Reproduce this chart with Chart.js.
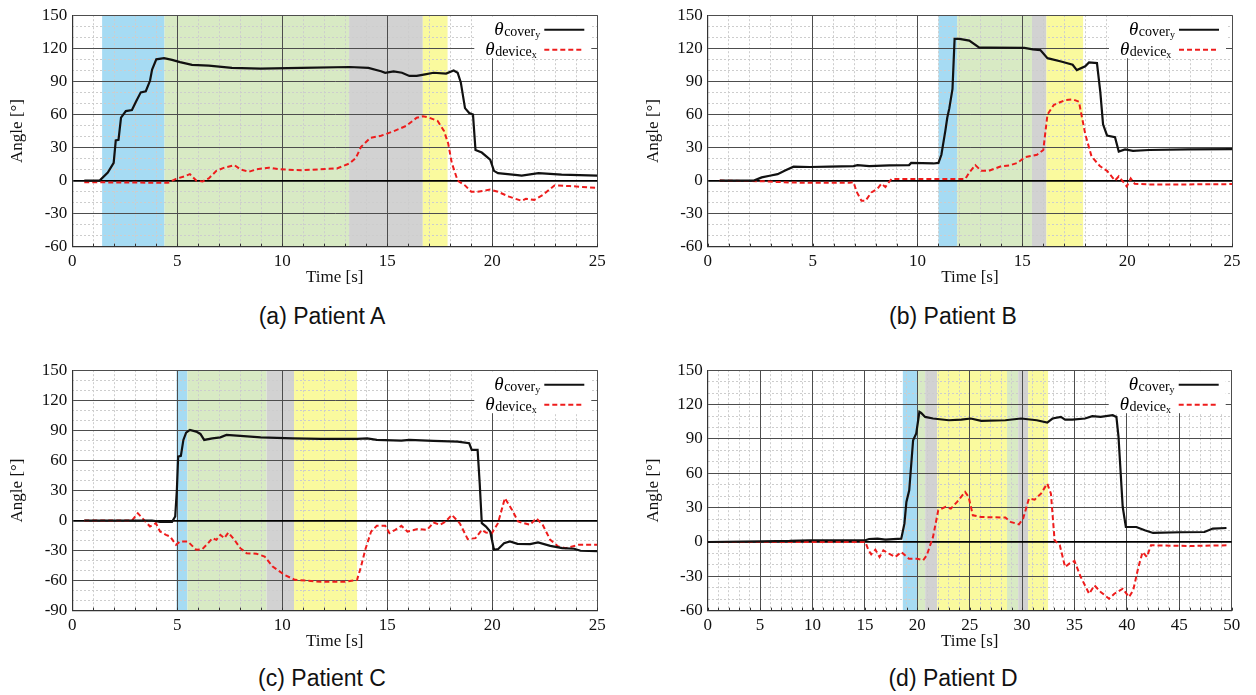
<!DOCTYPE html>
<html>
<head>
<meta charset="utf-8">
<script src="https://cdn.jsdelivr.net/npm/chart.js@4.4.1/dist/chart.umd.min.js"></script>
<style>
  body { margin: 0; background: #fff; width: 1256px; height: 695px; position: relative; overflow: hidden; }
  .panel { position: absolute; }
  .caption { position: absolute; width: 320px; text-align: center; font-family: "Liberation Sans", Arial, sans-serif; font-size: 23px; color: #111; line-height: 26px; }
</style>
</head>
<body>
<div class="panel" style="left:0;top:0;width:630px;height:290px"><canvas id="chartA"></canvas></div>
<div class="panel" style="left:630px;top:0;width:626px;height:290px"><canvas id="chartB"></canvas></div>
<div class="panel" style="left:0;top:355px;width:630px;height:300px"><canvas id="chartC"></canvas></div>
<div class="panel" style="left:630px;top:355px;width:626px;height:300px"><canvas id="chartD"></canvas></div>
<div class="caption" style="left:162px;top:303px">(a) Patient A</div>
<div class="caption" style="left:793px;top:303px">(b) Patient B</div>
<div class="caption" style="left:162px;top:665px">(c) Patient C</div>
<div class="caption" style="left:793px;top:665px">(d) Patient D</div>

<script>
// ---- Patient A ----
const coverATime  = [0.57, 1.3, 1.69, 1.97, 2.07, 2.2, 2.32, 2.55, 2.84, 3.03, 3.26, 3.5, 3.7, 3.8, 4.0, 4.37, 4.75, 5.13, 5.7, 6.5, 7.6, 8.97, 10.9, 13.2, 14.1, 14.7, 14.9, 15.3, 15.7, 16.05, 16.4, 16.8, 17.2, 17.8, 18.16, 18.35, 18.5, 18.7, 18.9, 19.08, 19.2, 19.5, 19.9, 20.08, 20.27, 21.2, 21.4, 22.2, 23.3, 25];
const coverAAngle = [0, 0, 7.3, 16, 36.5, 37, 57, 63, 64, 71.5, 80, 81, 90.5, 100.7, 110, 111, 109.5, 107.4, 105, 104.2, 102.2, 101.6, 102.2, 103, 102.2, 99.2, 97.8, 99, 97.8, 94.9, 94.9, 96.3, 97.8, 97, 99.8, 97.8, 89, 65.7, 61.3, 60, 27.7, 25.4, 19, 8.8, 6.7, 5, 4.4, 6.7, 5.3, 4.4];
const deviceATime  = [0.57, 4.18, 4.56, 4.94, 5.33, 5.6, 5.9, 6.2, 6.5, 6.86, 7.24, 7.72, 8.0, 8.4, 8.77, 9.35, 9.9, 10.9, 11.8, 12.6, 13.2, 13.5, 13.75, 14.2, 14.7, 15.3, 15.9, 16.4, 16.7, 17.0, 17.4, 17.7, 17.9, 18.07, 18.35, 18.7, 19.0, 19.3, 19.9, 20.27, 20.8, 21.4, 21.6, 22.0, 22.4, 22.96, 23.7, 24.3, 25];
const deviceAAngle = [-1.5, -2, -2, 1.5, 3.8, 5.8, 0, -0.9, 2, 8.8, 11.7, 14, 10.2, 7.9, 10.2, 11.7, 10.2, 9.3, 10.2, 11, 15.5, 20.4, 30.6, 38.8, 40.6, 44.7, 49.6, 57, 58.4, 57, 54, 45, 33.6, 16, 0, -4.4, -10.2, -10.2, -8.2, -10.2, -14.6, -18.4, -16.6, -17.5, -13.1, -4.4, -5, -5.8, -6.7];
const phaseAStart = [1.42, 4.39, 13.18, 16.69];
const phaseAEnd   = [4.39, 13.18, 16.69, 17.87];
const phaseAKind  = ['blue', 'green', 'grey', 'yellow'];

// ---- Patient B ----
const coverBTime  = [0.57, 2.2, 2.57, 2.95, 3.33, 3.71, 4.09, 4.86, 5.8, 6.95, 7.14, 7.7, 8.66, 9.6, 9.7, 10.76, 11.0, 11.14, 11.33, 11.42, 11.52, 11.67, 11.77, 12.0, 12.47, 12.95, 13.4, 15.1, 15.5, 15.86, 16.2, 16.85, 17.4, 17.6, 18.0, 18.18, 18.56, 18.72, 18.85, 19.04, 19.42, 19.6, 19.9, 20.28, 21.04, 22.9, 25];
const coverBAngle = [0, 0, 2.9, 4.4, 5.8, 9.3, 12.6, 12.3, 12.6, 13.1, 14, 13.1, 13.7, 14, 16, 15.5, 16, 23.4, 45.3, 57, 65.7, 83.2, 128.5, 128.5, 127, 120.6, 120.6, 120.3, 119, 118.3, 111, 108, 105, 100.2, 103.7, 107.2, 106.6, 80.3, 51, 40.9, 39.4, 26.3, 28.3, 26.9, 27.7, 28.3, 28.6];
const deviceBTime  = [0.57, 2.57, 3.9, 4.86, 6.76, 6.95, 7.1, 7.33, 7.52, 7.8, 8.1, 8.28, 8.47, 8.76, 9.6, 11.5, 12.28, 12.47, 12.76, 13.04, 13.4, 14.0, 14.38, 14.76, 15.14, 15.7, 16.0, 16.2, 16.5, 17.04, 17.42, 17.7, 18.0, 18.3, 18.7, 19.04, 19.42, 19.6, 19.98, 20.17, 20.36, 21.04, 22.9, 25];
const deviceBAngle = [0, -0.6, -1.8, -2, -2, -1.5, -10.2, -18.4, -18.4, -10.8, -7.3, -2.9, -5.8, 1.5, 1.5, 1.5, 1.5, 7.3, 14, 8.8, 8.8, 13.1, 13.7, 16, 21.3, 23.4, 27.7, 59.9, 68.6, 73, 73.6, 71.5, 42.3, 21.9, 13.1, 8.8, 0, 3.8, -5.3, 2, -2.9, -3.5, -3.5, -3.2];
const phaseBStart = [11.0, 11.9, 15.46, 16.15];
const phaseBEnd   = [11.9, 15.46, 16.15, 17.9];
const phaseBKind  = ['blue', 'green', 'grey', 'yellow'];

// ---- Patient C ----
const coverCTime  = [0.57, 3.8, 4.18, 4.75, 4.9, 4.98, 5.04, 5.17, 5.29, 5.42, 5.6, 5.9, 6.1, 6.28, 6.67, 7.05, 7.34, 8.0, 8.97, 10.5, 11.84, 13.56, 14.04, 14.5, 15.67, 16.05, 17.2, 18.35, 18.9, 19.02, 19.3, 19.4, 19.5, 19.7, 19.9, 20.08, 20.27, 20.56, 20.84, 21.2, 21.8, 22.18, 22.76, 23.33, 23.9, 24.2, 25];
const coverCAngle = [0, 0, -1.3, -1.3, 4, 30.6, 63.8, 64.5, 80.4, 87.7, 90.4, 88.7, 86.4, 80.4, 82, 83, 85.4, 84.4, 83, 82, 81.4, 81.4, 82, 80.4, 79.7, 80.4, 79.4, 78.8, 77.1, 70.4, 70.4, 37.2, -2.7, -6, -11, -29.2, -28.6, -22.6, -20.9, -23.3, -23.6, -21.9, -25.3, -27.6, -28.2, -30.2, -30.6];
const deviceCTime  = [0.57, 2.84, 3.12, 3.41, 3.7, 3.98, 4.18, 4.46, 4.66, 4.94, 5.13, 5.5, 5.9, 6.19, 6.47, 6.67, 6.86, 7.05, 7.24, 7.43, 7.72, 8.0, 8.3, 8.77, 9.16, 9.54, 10.1, 10.6, 11.84, 13.0, 13.56, 13.75, 13.95, 14.23, 14.5, 14.9, 15.1, 15.38, 15.67, 15.96, 16.44, 16.9, 17.2, 17.5, 17.78, 18.07, 18.45, 18.83, 19.2, 19.5, 19.7, 19.98, 20.27, 20.6, 20.94, 21.23, 21.5, 21.8, 22.1, 22.4, 22.76, 23.14, 23.5, 24.1, 25];
const deviceCAngle = [0, 0, 7.3, 0.7, -6, -2.7, -11, -14.3, -16, -24.3, -20.9, -20.9, -29.2, -28.6, -22.6, -17.6, -19.3, -14.3, -17.6, -12, -19.3, -27.6, -32.6, -33.2, -35.9, -45.9, -54.2, -59.2, -61.1, -61.1, -59.2, -45.9, -29.2, -11, -5.3, -5.3, -12.6, -9.3, -5.3, -11, -8.6, -9.3, -2, -4.3, -1, 5.6, -2.7, -18.6, -17.6, -9.3, -12, -12.6, -2.7, 22.3, 10.6, -1, -2.7, -4.3, 2.3, -4.3, -19.3, -25.9, -27.6, -24.3, -24.3];
const phaseCStart = [4.96, 5.48, 9.25, 10.56];
const phaseCEnd   = [5.48, 9.25, 10.56, 13.56];
const phaseCKind  = ['blue', 'green', 'grey', 'yellow'];

// ---- Patient D ----
const coverDTime  = [0, 5.14, 7.8, 9.7, 15.04, 15.4, 16.2, 16.95, 18.47, 18.77, 18.96, 19.23, 19.6, 19.9, 20.2, 20.37, 20.75, 21.5, 23.0, 24.2, 25.1, 26.1, 28.4, 29.9, 31.4, 32.4, 32.9, 33.7, 34.1, 34.8, 36.0, 36.7, 37.5, 38.65, 39.0, 39.2, 39.6, 39.9, 40.9, 41.7, 42.5, 45.1, 47.4, 48.2, 49.5];
const coverDAngle = [0, 0.6, 0.9, 1.5, 1.5, 2.6, 2.9, 2, 2.9, 16, 35, 45.2, 88.8, 94.7, 113.6, 112.7, 109.2, 107.8, 106.3, 106.9, 107.8, 105.7, 106.3, 107.8, 106.3, 104.3, 107.8, 109.2, 106.9, 106.9, 107.8, 109.8, 109.2, 110.7, 109.2, 91.8, 30.6, 13.1, 13.1, 10.2, 7.9, 8.5, 8.7, 11.7, 12.2];
const deviceDTime  = [0, 15.04, 15.35, 15.6, 16.0, 16.4, 16.76, 17.3, 17.9, 18.47, 19.2, 20.0, 20.56, 20.9, 21.5, 22.0, 22.7, 23.2, 23.8, 24.56, 24.9, 25.3, 26.1, 28.4, 28.9, 29.7, 30.1, 30.65, 31.2, 31.8, 32.4, 32.75, 33.1, 33.6, 34.1, 34.5, 35.0, 35.6, 36.4, 36.9, 37.5, 38.3, 38.8, 39.6, 40.2, 40.6, 41.1, 41.5, 41.9, 42.3, 45.9, 49.5];
const deviceDAngle = [0, 0, -7.3, -10.8, -6.7, -13.1, -7.3, -10.2, -13.1, -8.7, -14.6, -14.6, -16, -11.7, 4.4, 27.7, 30.6, 29.1, 35, 43.7, 39.3, 23.3, 21.8, 21.3, 17.5, 15.4, 20.4, 37.9, 37, 42.2, 51, 42.2, 1.5, -2.9, -21.8, -18.9, -16.6, -30.6, -45.2, -37.9, -43.7, -49.5, -45.2, -40.8, -48.1, -42.2, -21.8, -8.7, -13.1, -2.9, -3.5, -2.9];
const phaseDStart = [18.62, 20.07, 20.75, 21.9, 28.56, 29.63, 30.58];
const phaseDEnd   = [20.07, 20.75, 21.9, 28.56, 29.63, 30.58, 32.48];
const phaseDKind  = ['blue', 'green', 'grey', 'yellow', 'green', 'grey', 'yellow'];

// tick label ranges
const yTicksAB = { min: -60, max: 150 };
const yTicksC  = { min: -90, max: 150 };
const yTicksD  = { min: -60, max: 150 };

const PHASE_COLORS = { blue: '#a6dbf3', green: '#d8eac4', grey: '#d2d2d2', yellow: '#fafa9e' };
const SERIF = '"Liberation Serif", "Times New Roman", serif';

function toPoints(t, v) {
  return t.map((x, i) => ({ x: x, y: v[i] }));
}

// shaded phase bands behind the grid
const phasePlugin = {
  id: 'phases',
  beforeDraw(chart, args, opts) {
    const { ctx, chartArea } = chart;
    const xs = chart.scales.x;
    ctx.save();
    opts.start.forEach((s, i) => {
      const x1 = xs.getPixelForValue(s);
      const x2 = xs.getPixelForValue(opts.end[i]);
      ctx.fillStyle = PHASE_COLORS[opts.kind[i]];
      ctx.fillRect(x1, chartArea.top, x2 - x1, chartArea.bottom - chartArea.top);
    });
    ctx.restore();
  }
};

// legend with theta + subscripts; box goes under the lines, text on top
const thetaLegend = {
  id: 'thetaLegend',
  beforeDatasetsDraw(chart) {
    const { ctx, chartArea } = chart;
    const R = chartArea.right, T = chartArea.top, B = chartArea.bottom;
    ctx.save();
    // short minor ticks standing on the bottom axis
    ctx.strokeStyle = '#333';
    ctx.lineWidth = 1;
    chart.scales.xMinor.ticks.forEach(t => {
      const x = Math.round(chart.scales.xMinor.getPixelForValue(t.value)) + 0.5;
      ctx.beginPath();
      ctx.moveTo(x, B);
      ctx.lineTo(x, B - 3);
      ctx.stroke();
    });
    ctx.fillStyle = '#fff';
    ctx.fillRect(R - 123, T + 1, 117, 42);
    ctx.restore();
  },
  afterDraw(chart) {
    const { ctx, chartArea } = chart;
    const R = chartArea.right, T = chartArea.top;
    ctx.save();
    ctx.fillStyle = '#000';
    ctx.textBaseline = 'alphabetic';

    function label(x, y, sub, subsub) {
      ctx.font = 'italic 19px ' + SERIF;
      ctx.fillText('\u03b8', x, y);
      let cx = x + ctx.measureText('\u03b8').width + 0.5;
      ctx.font = '14px ' + SERIF;
      ctx.fillText(sub, cx, y + 1);
      cx += ctx.measureText(sub).width;
      ctx.font = '10px ' + SERIF;
      ctx.fillText(subsub, cx, y + 3);
    }
    label(R - 103, T + 20, 'cover', 'y');
    label(R - 112, T + 40, 'device', 'x');

    ctx.lineWidth = 2;
    ctx.strokeStyle = '#111';
    ctx.beginPath();
    ctx.moveTo(R - 53, T + 14.5);
    ctx.lineTo(R - 13, T + 14.5);
    ctx.stroke();
    ctx.strokeStyle = '#ee1c1c';
    ctx.setLineDash([5, 3]);
    ctx.beginPath();
    ctx.moveTo(R - 53, T + 34.5);
    ctx.lineTo(R - 13, T + 34.5);
    ctx.stroke();
    ctx.restore();
  }
};

function makePanel(id, p) {
  const tickFont = { family: SERIF, size: 17 };
  const titleFont = { family: SERIF, size: 17 };
  return new Chart(document.getElementById(id), {
    type: 'line',
    data: {
      datasets: [
        { data: toPoints(p.coverTime, p.coverAngle), borderColor: '#111', borderWidth: 2.2, pointRadius: 0, tension: 0, xAxisID: 'x', yAxisID: 'y' },
        { data: toPoints(p.deviceTime, p.deviceAngle), borderColor: '#ee1c1c', borderWidth: 2, borderDash: [5, 3], pointRadius: 0, tension: 0, xAxisID: 'x', yAxisID: 'y' }
      ]
    },
    options: {
      responsive: true,
      maintainAspectRatio: false,
      animation: false,
      events: [],
      layout: { padding: { left: 0, top: p.padTop, right: p.padRight, bottom: p.padBottom } },
      plugins: {
        legend: { display: false },
        tooltip: { enabled: false },
        phases: { start: p.phaseStart, end: p.phaseEnd, kind: p.phaseKind }
      },
      scales: {
        xMinor: {
          type: 'linear', position: 'bottom', min: 0, max: p.xMax,
          ticks: { display: false, stepSize: 1 },
          grid: { color: '#cdcdcd', lineWidth: 1, drawTicks: false, z: -2 },
          border: { display: false, dash: [2, 2] },
          afterFit(s) { s.height = 0; }
        },
        yMinor: {
          type: 'linear', position: 'left', min: p.yRange.min, max: p.yRange.max,
          ticks: { display: false, stepSize: 10 },
          grid: { color: '#cdcdcd', lineWidth: 1, drawTicks: false, z: -2 },
          border: { display: false, dash: [2, 2] },
          afterFit(s) { s.width = 0; }
        },
        x: {
          type: 'linear', position: 'bottom', min: 0, max: p.xMax,
          ticks: { stepSize: p.xStep, padding: 5, font: tickFont, color: '#111', maxRotation: 0, autoSkip: false },
          grid: { color: '#4d4d4d', lineWidth: 1, drawTicks: false, z: -1 },
          border: { color: '#333', width: 1.2 },
          title: { display: true, text: 'Time [s]', font: titleFont, color: '#111', padding: 0 },
          afterFit(s) { s.height = 41; }
        },
        y: {
          type: 'linear', position: 'left', min: p.yRange.min, max: p.yRange.max,
          ticks: { stepSize: 30, padding: 5, font: tickFont, color: '#111' },
          grid: {
            color: c => (c.tick && c.tick.value === 0 ? '#000' : '#4d4d4d'),
            lineWidth: c => (c.tick && c.tick.value === 0 ? 1.8 : 1),
            drawTicks: false, z: -1
          },
          border: { color: '#333', width: 1.2 },
          title: { display: true, text: 'Angle [\u00b0]', font: titleFont, color: '#111', padding: { top: p.titlePad, bottom: 0 } },
          afterFit(s) { s.width = p.yWidth; }
        }
      }
    },
    plugins: [phasePlugin, thetaLegend]
  });
}

makePanel('chartA', {
  coverTime: coverATime, coverAngle: coverAAngle, deviceTime: deviceATime, deviceAngle: deviceAAngle,
  phaseStart: phaseAStart, phaseEnd: phaseAEnd, phaseKind: phaseAKind,
  xMax: 25, xStep: 5, yRange: yTicksAB,
  padTop: 6.9, padRight: 32.7, padBottom: 2.3, yWidth: 72.3, titlePad: 7.8
});
makePanel('chartB', {
  coverTime: coverBTime, coverAngle: coverBAngle, deviceTime: deviceBTime, deviceAngle: deviceBAngle,
  phaseStart: phaseBStart, phaseEnd: phaseBEnd, phaseKind: phaseBKind,
  xMax: 25, xStep: 5, yRange: yTicksAB,
  padTop: 6.9, padRight: 24, padBottom: 2.3, yWidth: 77.8, titlePad: 13.3
});
makePanel('chartC', {
  coverTime: coverCTime, coverAngle: coverCAngle, deviceTime: deviceCTime, deviceAngle: deviceCAngle,
  phaseStart: phaseCStart, phaseEnd: phaseCEnd, phaseKind: phaseCKind,
  xMax: 25, xStep: 5, yRange: yTicksC,
  padTop: 15, padRight: 32.7, padBottom: 3.3, yWidth: 72.3, titlePad: 7.8
});
makePanel('chartD', {
  coverTime: coverDTime, coverAngle: coverDAngle, deviceTime: deviceDTime, deviceAngle: deviceDAngle,
  phaseStart: phaseDStart, phaseEnd: phaseDEnd, phaseKind: phaseDKind,
  xMax: 50, xStep: 5, yRange: yTicksD,
  padTop: 15, padRight: 24.3, padBottom: 3.3, yWidth: 77.7, titlePad: 13.3
});
</script>
</body>
</html>
